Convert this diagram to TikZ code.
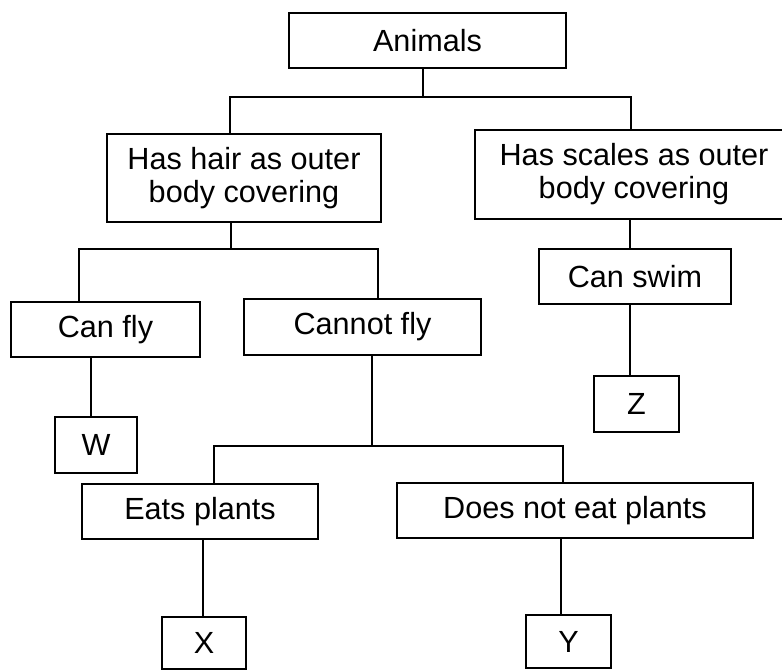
\documentclass[tikz,border=0pt]{standalone}
\usepackage{fontspec}
\setmainfont{Liberation Sans}

\tikzset{
  keybox/.style={draw, line width=1pt, inner sep=0, align=center,
                 font=\fontsize{15.3}{16.5}\selectfont},
  keyline/.style={line width=1pt},
}

\begin{document}
\begin{tikzpicture}[x=0.5pt, y=-0.5pt]
    % page frame: the scales box runs past the right edge
    \useasboundingbox (0,0) rectangle (782,671);
    \clip (0,0) rectangle (782,671);

    % --- level 0 ---
    \node[keybox, minimum width=138.5pt, minimum height=27.5pt] (animals) at (427.5,40.5) {Animals};

    % --- level 1 ---
    \node[keybox, minimum width=137pt, minimum height=44pt] (hair) at (244,178) {Has hair as outer\\body covering};
    \node[keybox, minimum width=159pt, minimum height=44.5pt] (scales) at (634,174.5) {Has scales as outer\\body covering};

    % --- level 2 ---
    \node[keybox, minimum width=94.5pt, minimum height=27.5pt] (canfly) at (105.5,329.5) {Can fly};
    \node[keybox, minimum width=118.5pt, minimum height=28pt] (cannotfly) at (362.5,327) {Cannot fly};
    \node[keybox, minimum width=96pt, minimum height=27.5pt] (canswim) at (635,276.5) {Can swim};

    % --- level 3 ---
    \node[keybox, minimum width=41pt, minimum height=28pt] (w) at (96,445) {W};
    \node[keybox, minimum width=42.5pt, minimum height=28pt] (z) at (636.5,404) {Z};
    \node[keybox, minimum width=118pt, minimum height=27.5pt] (eats) at (200,511.5) {Eats plants};
    \node[keybox, minimum width=178pt, minimum height=27.5pt] (noteats) at (575,510.5) {Does not eat plants};

    % --- level 4 ---
    \node[keybox, minimum width=42pt, minimum height=26pt] (x) at (204,643) {X};
    \node[keybox, minimum width=42.5pt, minimum height=26.5pt] (y) at (568.5,641.5) {Y};

    % stem positions and bar ends
    \coordinate (animals stem) at (423,97);
    \coordinate (hair drop) at (230,97);
    \coordinate (scales drop) at (631,97);
    \coordinate (hair stem) at (231,249);
    \coordinate (canfly drop) at (79,249);
    \coordinate (cannotfly drop) at (378,249);
    \coordinate (cannotfly stem) at (372,446);
    \coordinate (eats drop) at (214,446);
    \coordinate (noteats drop) at (563,446);
    \coordinate (scales stem) at (630,0);
    \coordinate (canfly stem) at (91,0);
    \coordinate (eats stem) at (203,0);
    \coordinate (noteats stem) at (561,0);

    % connectors
    \draw[keyline] (animals.south -| animals stem) -- (animals stem);
    \draw[keyline] (hair.north -| hair drop) |- (scales drop) -- (scales.north -| scales drop);
    \draw[keyline] (hair.south -| hair stem) -- (hair stem);
    \draw[keyline] (canfly.north -| canfly drop) |- (cannotfly drop) -- (cannotfly.north -| cannotfly drop);
    \draw[keyline] (cannotfly.south -| cannotfly stem) -- (cannotfly stem);
    \draw[keyline] (eats.north -| eats drop) |- (noteats drop) -- (noteats.north -| noteats drop);
    \draw[keyline] (scales.south -| scales stem) -- (canswim.north -| scales stem);
    \draw[keyline] (canswim.south -| scales stem) -- (z.north -| scales stem);
    \draw[keyline] (canfly.south -| canfly stem) -- (w.north -| canfly stem);
    \draw[keyline] (eats.south -| eats stem) -- (x.north -| eats stem);
    \draw[keyline] (noteats.south -| noteats stem) -- (y.north -| noteats stem);
\end{tikzpicture}
\end{document}
